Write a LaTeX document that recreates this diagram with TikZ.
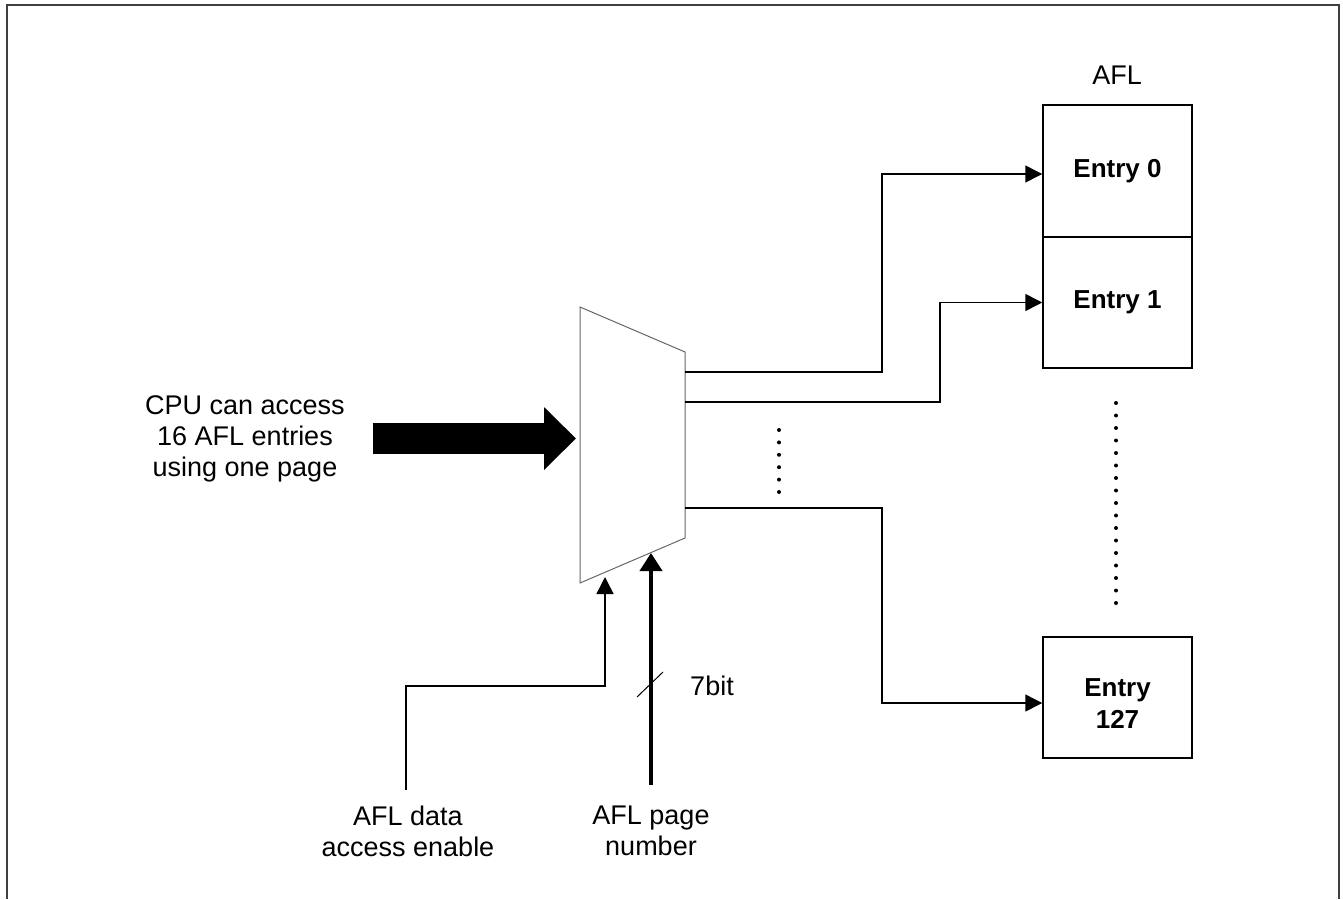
\documentclass[tikz,border=0pt]{standalone}
\usepackage{fontspec}
\setmainfont{Liberation Sans}
\usetikzlibrary{arrows.meta, positioning}

\begin{document}
\begin{tikzpicture}[
    x=0.5pt, y=-0.5pt,
    every node/.style={font=\fontsize{13.5}{15.5}\selectfont, align=center},
    entry/.style={draw, line width=0.75pt, minimum width=74.5pt, font=\fontsize{13}{15}\selectfont\bfseries},
    sig/.style={line width=0.75pt, -{Triangle[length=8.5pt, width=8.5pt]}},
    bus/.style={line width=2pt, -{Triangle[length=9pt, width=11pt]}},
    fatarrow/.style={line width=15.5pt, -{Triangle[length=16pt, width=30.5pt]}},
    muxline/.style={draw=black!60, line width=0.5pt}
]
\useasboundingbox (0,0) rectangle (1343,899);

% frame
\draw[draw=black!75, line width=1pt] (7,899) -- (7,5) -- (1339,5) -- (1339,899);

% AFL entries
\node[entry, minimum height=66pt] (e0) at (1117.5,171) {Entry 0};
\node[entry, minimum height=65.5pt] (e1) at (1117.5,302.5) {Entry 1};
\node[entry, minimum height=60.5pt] (e127) at (1117.5,697.5) {\raisebox{-3pt}[\height][\depth]{\shortstack{Entry\\[1pt]127}}};
\node (afl) at (1117,75) {AFL};

% mux
\coordinate (muxtl) at (580,307);
\coordinate (muxtr) at (685,352);
\coordinate (muxbr) at (685,538);
\coordinate (muxbl) at (580,583);
\draw[muxline] (muxtl) -- (muxtr) -- (muxbr) -- (muxbl) -- cycle;

% mux outputs
\coordinate (o1) at (685,372);
\coordinate (o2) at (685,402);
\coordinate (o3) at (685,508);
\draw[sig] (o1) -- (882,372) |- ([yshift=-1.5pt]e0.west);
\draw[sig] (o2) -- (940,402) |- (e1.west);
\draw[sig] (o3) -- (882,508) |- ([yshift=-2.75pt]e127.west);

% dots
\foreach \i in {0,...,5}
  \fill (779,430+12.4*\i) circle (1pt);
\foreach \i in {0,...,16}
  \fill (1116,403+12.5*\i) circle (1pt);

% CPU access
\node (cpu) at (245,439) {CPU can access\\16 AFL entries\\using one page};
\coordinate (cpuout) at (373,438.5);
\coordinate (muxin) at (576,438.5);
\draw[fatarrow] (cpuout) -- (muxin);

% enable
\node (enlbl) at (408,831) {AFL data\\access enable};
\coordinate (ensrc) at (406,790);
\coordinate (enin) at (605,577);
\draw[sig] (ensrc) -- (406,686) -| (enin);

% page number
\node (pglbl) at (651,831) {AFL page\\number};
\coordinate (pgsrc) at (651,785);
\coordinate (pgin) at (651,553);
\draw[bus] (pgsrc) -- (pgin);
\draw[line width=0.5pt] (637,697) -- (663,672);
\node (width) at (712,686) {7bit};
\end{tikzpicture}
\end{document}
